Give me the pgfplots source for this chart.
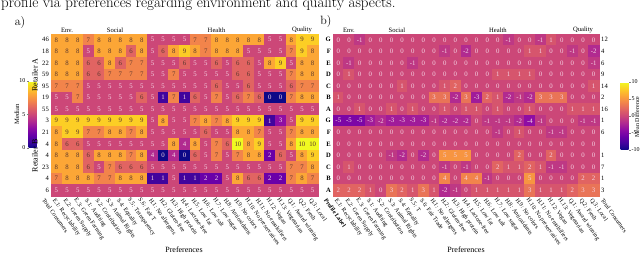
\documentclass[border=0pt]{standalone}
\usepackage{fontspec}
\usepackage{pgfplots}
\pgfplotsset{compat=1.18}
\usepackage{pgfplotstable}
\usetikzlibrary{calc}
\newfontfamily\chartfont{Liberation Serif}
\newcommand\cellf{\chartfont\fontsize{6.8}{7}\selectfont}
\newcommand\tickf{\chartfont\fontsize{6.6}{7}\selectfont}
\newcommand\labf{\chartfont\fontsize{6}{7}\selectfont}
\newcommand\axf{\chartfont\fontsize{8}{9}\selectfont}
\definecolor{darktxt}{RGB}{90,55,45}
\definecolor{lighttxt}{RGB}{245,212,228}
\tikzset{xlab/.style={rotate=-55, anchor=north west, font=\labf, inner sep=1pt}}
\pgfplotsset{
  /pgf/number format/assume math mode=true,
  colormap={plasma}{rgb255=(13,8,135) rgb255=(65,4,157) rgb255=(106,0,168) rgb255=(143,13,164) rgb255=(177,42,144) rgb255=(204,71,120) rgb255=(225,100,98) rgb255=(242,132,75) rgb255=(252,166,54) rgb255=(252,206,37) rgb255=(240,249,33)},
  heat/.style={scale only axis, height=162pt, xmin=-0.5, xmax=24.5, ymin=-0.5, ymax=13.5,
    axis line style={draw=none}, major tick length=0pt, clip=false,
    xtick={0,...,24},
    xticklabel style={rotate=-55, anchor=north west, font=\labf, inner sep=1pt},
    ytick={0,...,13}, yticklabel style={font=\tickf, inner sep=2pt},
    colormap name=plasma},
  heatcells/.style={scatter, only marks, mark=square*, mark size=5.35pt, point meta=explicit,
    scatter/use mapped color={draw=mapped color, fill=mapped color},
    mark options={yscale=1.084, line width=0.3pt}},
  heattxt/.style={only marks, mark=none, point meta=explicit,
    visualization depends on={\thisrowno{0} \as \cval},
    nodes near coords={\ifdim\cval pt>#1pt\color{darktxt}\else\color{lighttxt}\fi\pgfmathprintnumber{\cval}},
    nodes near coords align={center},
    every node near coord/.append style={font=\cellf, inner sep=0pt}},
  /pgfplots/table/grid25/.style={x index=0, y index=0, meta index=0,
    x expr={\coordindex-25*floor((\coordindex+0.5)/25)},
    y expr={13-floor((\coordindex+0.5)/25)}},
}
% Panel a: medians, rows top (Retailer A, G) to bottom (Retailer B, A); columns E1-E3, S1-S6, H1-H13, Q1-Q3
\pgfplotstableread[header=false,row sep=\\]{
8\\8\\8\\7\\8\\8\\8\\8\\8\\5\\5\\5\\5\\7\\7\\8\\8\\8\\8\\8\\5\\5\\8\\9\\9\\
8\\8\\8\\5\\8\\8\\8\\6\\8\\5\\6\\8\\9\\8\\7\\8\\8\\8\\5\\5\\5\\5\\7\\9\\8\\
8\\8\\8\\6\\6\\8\\6\\7\\7\\5\\5\\5\\6\\5\\5\\6\\5\\6\\6\\5\\8\\9\\5\\8\\8\\
8\\8\\8\\6\\6\\7\\7\\7\\7\\5\\5\\7\\5\\5\\5\\5\\5\\6\\6\\5\\5\\5\\7\\8\\8\\
7\\7\\7\\5\\5\\5\\5\\5\\5\\5\\5\\5\\5\\5\\5\\6\\5\\5\\6\\5\\5\\5\\6\\7\\7\\
5\\5\\7\\5\\5\\5\\5\\5\\6\\5\\1\\7\\1\\6\\5\\7\\5\\6\\7\\6\\0\\0\\7\\8\\8\\
5\\5\\5\\5\\5\\5\\5\\5\\5\\5\\5\\5\\5\\5\\5\\5\\5\\5\\5\\5\\5\\5\\5\\5\\5\\
9\\9\\9\\9\\9\\9\\9\\9\\9\\5\\8\\5\\5\\7\\8\\7\\8\\9\\9\\9\\1\\3\\5\\9\\9\\
8\\9\\9\\7\\7\\8\\8\\7\\8\\5\\5\\5\\5\\5\\6\\5\\5\\8\\8\\7\\5\\5\\7\\8\\8\\
8\\6\\6\\5\\5\\5\\5\\5\\5\\5\\5\\8\\4\\8\\5\\7\\6\\10\\8\\9\\5\\5\\8\\10\\10\\
8\\8\\8\\6\\8\\8\\8\\7\\8\\4\\0\\4\\0\\6\\5\\7\\5\\7\\8\\8\\2\\6\\5\\8\\9\\
8\\8\\8\\6\\5\\7\\6\\6\\6\\5\\5\\5\\5\\5\\5\\5\\5\\5\\5\\5\\5\\5\\7\\7\\8\\
7\\8\\8\\8\\7\\7\\8\\8\\8\\1\\1\\5\\1\\1\\2\\2\\5\\8\\6\\6\\2\\2\\7\\8\\7\\
5\\5\\5\\5\\5\\5\\5\\5\\5\\5\\5\\5\\5\\5\\5\\5\\5\\5\\5\\5\\5\\5\\5\\5\\5\\}\medA
% Panel b: mean differences
\pgfplotstableread[header=false,row sep=\\]{
0\\0\\-1\\0\\0\\0\\0\\0\\0\\0\\0\\0\\0\\0\\0\\0\\-1\\0\\0\\-1\\1\\0\\0\\0\\0\\
0\\0\\0\\0\\0\\0\\0\\0\\0\\0\\-1\\0\\-2\\0\\0\\0\\0\\0\\1\\1\\0\\0\\-1\\0\\-2\\
0\\-1\\0\\0\\0\\0\\0\\-1\\0\\0\\0\\0\\0\\0\\0\\0\\0\\0\\0\\0\\0\\0\\0\\0\\-1\\
0\\1\\0\\0\\0\\0\\0\\0\\0\\0\\0\\0\\0\\0\\0\\1\\1\\1\\1\\0\\0\\0\\0\\0\\0\\
0\\0\\0\\0\\0\\0\\1\\0\\0\\0\\1\\2\\0\\0\\0\\0\\0\\0\\0\\0\\0\\0\\0\\0\\1\\
1\\0\\0\\0\\0\\0\\0\\0\\0\\3\\3\\-2\\3\\-3\\2\\1\\-2\\-1\\-2\\3\\3\\3\\0\\0\\0\\
0\\0\\1\\0\\0\\1\\0\\1\\0\\0\\1\\0\\1\\1\\0\\1\\0\\0\\1\\0\\0\\0\\1\\1\\1\\
-5\\-5\\-5\\-3\\-2\\-3\\-3\\-3\\-3\\-1\\-2\\-2\\-2\\0\\-1\\-1\\-1\\-2\\-4\\-1\\0\\0\\0\\-1\\-1\\
0\\0\\0\\0\\0\\0\\0\\0\\0\\0\\0\\0\\0\\0\\0\\-1\\0\\1\\0\\0\\-1\\-1\\0\\0\\0\\
0\\0\\0\\0\\0\\0\\0\\0\\0\\0\\0\\0\\0\\0\\0\\0\\0\\0\\0\\0\\0\\0\\0\\0\\0\\
0\\0\\0\\0\\0\\-1\\-2\\0\\-2\\0\\5\\5\\5\\0\\0\\0\\0\\2\\0\\0\\2\\0\\0\\0\\0\\
0\\1\\0\\0\\0\\0\\0\\0\\0\\0\\-1\\0\\-1\\0\\0\\2\\1\\1\\2\\1\\-1\\-1\\0\\0\\0\\
0\\0\\0\\0\\0\\0\\0\\0\\0\\0\\4\\0\\4\\4\\-1\\0\\0\\0\\5\\0\\0\\0\\0\\2\\2\\
2\\2\\2\\1\\0\\3\\2\\1\\3\\1\\-2\\-1\\0\\1\\1\\1\\1\\1\\3\\1\\1\\1\\2\\3\\3\\}\diffB
\begin{document}
\begin{tikzpicture}[x=1pt,y=1pt]
% caption line of the source page
\node[anchor=base west, inner sep=0pt, font=\fontsize{15}{18}\selectfont] at (1,248) {profile via preferences regarding environment and quality aspects.};
\node[font=\fontsize{12}{14}\selectfont] at (20,233) {a)};
\node[font=\fontsize{12}{14}\selectfont] at (326,234) {b)};

% ---------------- Panel a ----------------
\begin{axis}[heat, at={(51pt,60pt)}, anchor=south west, width=267pt,
  xticklabels={E.1: Recyclability, E.2: Green Supply, E.3: Green Farming, S.1: Auditing, S.2: Contribution, S.3: Animal Rights, S.4: Equality, S.5: Transparency, S.6: Fair T, H.1: No allergens, H.2: Gluten-free, H.3: High protein, H.4: Lactose-free, H.5: Low fat, H.6: Low salt, H.7: Low sugar, H.8: Antioxidants, H.9: No colors, H.10: No preservatives, H.11: No emulsifiers, H.12: Vegan, H.13: Vegetarian, Q.1: Award winning, Q.2: Fresh, Q.3: Local},
  yticklabels={6,4,23,4,4,21,3,55,19,95,59,22,18,46},
  point meta min=0, point meta max=10,
  colorbar, colorbar style={
    at={($(parent axis.south west)+(-31pt,48pt)$)}, anchor=south west,
    scale only axis, width=8pt, height=67pt,
    axis line style={draw=none},
    ytick={0,5,10}, yticklabel pos=left, ytick pos=left,
    major tick length=2pt, tick align=outside,
    yticklabel style={font=\labf, inner sep=1pt},
    ylabel={Median}, ylabel style={font=\tickf, inner sep=0pt, yshift=-1pt},
  }]
\addplot[heatcells] table[grid25] {\medA};
\addplot[heattxt=5.5] table[grid25] {\medA};
\draw[white, line width=1.3pt] (axis cs:2.5,-0.5) -- (axis cs:2.5,13.5);
\draw[white, line width=1.3pt] (axis cs:8.5,-0.5) -- (axis cs:8.5,13.5);
\draw[white, line width=1.3pt] (axis cs:21.5,-0.5) -- (axis cs:21.5,13.5);
\draw[white, line width=1.3pt] (axis cs:-0.5,6.5) -- (axis cs:24.5,6.5);
\node[font=\tickf, anchor=south, inner sep=1pt] at (axis cs:1,13.5) {Env.};
\node[font=\tickf, anchor=south, inner sep=1pt] at (axis cs:5.5,13.5) {Social};
\node[font=\tickf, anchor=south, inner sep=1pt] at (axis cs:15,13.5) {Health};
\node[font=\tickf, anchor=south, inner sep=1pt] at (axis cs:23,13.5) {Quality};
\node[xlab] at (axis cs:-1,-0.5) {Total Consumers};
\end{axis}
\node[rotate=90, font=\axf] at (35,181) {Retailer A};
\node[rotate=90, font=\axf] at (35,100) {Retailer B};
\node[font=\axf] at (184,6) {Preferences};

% ---------------- Panel b ----------------
\begin{axis}[heat, at={(333pt,60pt)}, anchor=south west, width=266pt,
  xticklabels={E.1: Recyclability, E.2: Green Supply, E.3: Green Farming, S.1: Auditing, S.2: Contribution, S.3: Animal Rights, S.4: Equality, S.5: T, S.6: Fair Trade, H.1: No allergens, H.2: Gluten-free, H.3: High protein, H.4: Lactose-free, H.5: Low fat, H.6: Low salt, H.7: Low sugar, H.8: Antioxidants, H.9: No colors, H.10: No preservatives, H.11: No emulsifiers, H.12: Vegan, H.13: Vegetarian, Q.1: Award winning, Q.2: Fresh, Q.3: Local},
  yticklabels={A,B,C,D,E,F,G,A,B,C,D,E,F,G},
  yticklabel style={font=\tickf\bfseries},
  point meta min=-10, point meta max=10,
  colorbar, colorbar style={
    at={($(parent axis.south east)+(13pt,46pt)$)}, anchor=south west,
    scale only axis, width=8pt, height=68pt,
    axis line style={draw=none},
    ytick={-10,-5,0,5,10}, yticklabel pos=right, ytick pos=right,
    major tick length=2pt, tick align=outside,
    yticklabel style={font=\labf, inner sep=1pt},
  }]
\addplot[heatcells, mark size=5.33pt, mark options={yscale=1.088, line width=0.3pt}] table[grid25] {\diffB};
\addplot[heattxt=100] table[grid25] {\diffB};
\draw[white, line width=1.3pt] (axis cs:2.5,-0.5) -- (axis cs:2.5,13.5);
\draw[white, line width=1.3pt] (axis cs:8.5,-0.5) -- (axis cs:8.5,13.5);
\draw[white, line width=1.3pt] (axis cs:21.5,-0.5) -- (axis cs:21.5,13.5);
\draw[white, line width=1.3pt] (axis cs:-0.5,6.5) -- (axis cs:24.5,6.5);
\node[font=\tickf, anchor=south, inner sep=1pt] at (axis cs:1,13.5) {Env.};
\node[font=\tickf, anchor=south, inner sep=1pt] at (axis cs:5.5,13.5) {Social};
\node[font=\tickf, anchor=south, inner sep=1pt] at (axis cs:15,13.5) {Health};
\node[font=\tickf, anchor=south, inner sep=1pt] at (axis cs:23,13.5) {Quality};
\node[xlab, font=\labf\bfseries] at (axis cs:-1,-0.5) {Profile Label};
\node[xlab] at (axis cs:25,-0.5) {Total Consumers};
\end{axis}
% right-hand totals of panel b
\begin{axis}[at={(333pt,60pt)}, anchor=south west, scale only axis, width=266pt, height=162pt,
  xmin=-0.5, xmax=24.5, ymin=-0.5, ymax=13.5, hide x axis,
  axis line style={draw=none}, major tick length=0pt,
  ytick={0,...,13}, yticklabels={3,1,7,1,{},6,1,16,2,14,9,6,4,12},
  yticklabel pos=right, yticklabel style={font=\tickf, inner sep=2pt}]
\end{axis}
\node[font=\axf] at (466,6) {Preferences};
\node[rotate=90, font=\labf] at (637,139) {Mean Difference};

\pgfresetboundingbox
\useasboundingbox (0,0) rectangle (640,256);
\end{tikzpicture}
\end{document}
